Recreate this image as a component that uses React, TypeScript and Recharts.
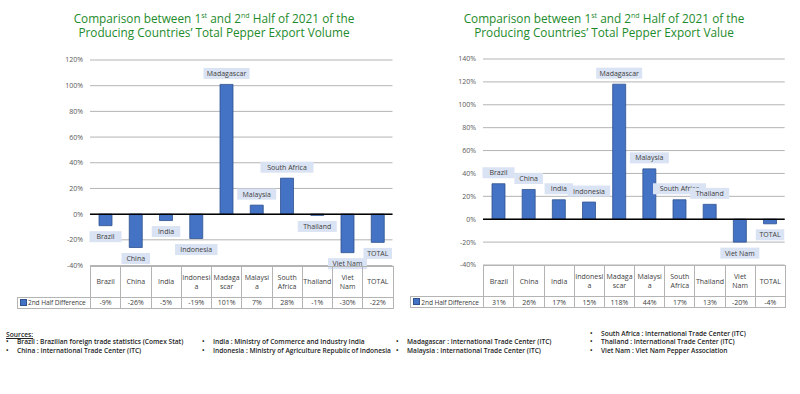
import { BarChart, Bar, XAxis, YAxis, CartesianGrid, ReferenceLine, LabelList } from "recharts";

const countries = ["Brazil", "China", "India", "Indonesia", "Madagascar", "Malaysia", "South Africa", "Thailand", "Viet Nam", "TOTAL"];
const tableHeads = ["Brazil", "China", "India", "Indonesi\na", "Madaga\nscar", "Malaysi\na", "South\nAfrica", "Thailand", "Viet\nNam", "TOTAL"];
const volumeDiff = [-9, -26, -5, -19, 101, 7, 28, -1, -30, -22];
const valueDiff = [31, 26, 17, 15, 118, 44, 17, 13, -20, -4];
const volumeTicks = [-40, -20, 0, 20, 40, 60, 80, 100, 120];
const valueTicks = [-40, -20, 0, 20, 40, 60, 80, 100, 120, 140];
const seriesName = "2nd Half Difference";

const sourcesCols = [
  ["Brazil : Brazilian foreign trade statistics (Comex Stat)", "China : International Trade Center (ITC)"],
  ["India : Ministry of Commerce and Industry India", "Indonesia : Ministry of Agriculture Republic of Indonesia"],
  ["Madagascar : International Trade Center (ITC)", "Malaysia : International Trade Center (ITC)"],
  ["South Africa : International Trade Center (ITC)", "Thailand : International Trade Center (ITC)", "Viet Nam : Viet Nam Pepper Association"]
];

const FONT = "'Open Sans', 'Noto Sans', sans-serif";
const GREEN = "#1e8b2c";
const BAR = "#4472c4";
const GRID = "#b4b4b4";
const TEXT = "#404040";

function CatLabel(props: any) {
  const { x, y, width, height, index, values } = props;
  const v = values[index];
  const name = countries[index];
  const top = Math.min(y, y + height);
  const bottom = Math.max(y, y + height);
  const cx = x + width / 2;
  const cy = v >= 0 ? top - 11 : bottom + 11;
  const w = name.length * 3.5 + 11;
  return (
    <g>
      <rect x={cx - w / 2} y={cy - 5.5} width={w} height={11} fill="#dae3f3" />
      <text x={cx} y={cy} dy={2.5} textAnchor="middle" fontSize={7} fill={TEXT} fontFamily={FONT}>
        {name}
      </text>
    </g>
  );
}

function Panel({ kind, values, ticks, plotLeft, plotTop, plotWidth, plotHeight, titleCenter }: any) {
  const data = countries.map((name, i) => ({ name, value: values[i] }));
  const colW = plotWidth / countries.length;
  const cell: any = {
    border: `1px solid ${GRID}`,
    padding: 0,
    textAlign: "center",
    fontSize: 7,
    color: TEXT,
    lineHeight: "9px",
    whiteSpace: "pre-line",
    overflow: "hidden"
  };
  return (
    <>
      <div
        style={{
          position: "absolute",
          left: titleCenter - 180,
          top: 10.5,
          width: 360,
          textAlign: "center",
          color: GREEN,
          fontSize: 11.8,
          lineHeight: "14px",
          fontFamily: FONT
        }}
      >
        Comparison between 1<sup style={{ fontSize: "0.6em", lineHeight: 0 }}>st</sup> and 2
        <sup style={{ fontSize: "0.6em", lineHeight: 0 }}>nd</sup> Half of 2021 of the
        <br />
        Producing Countries’ Total Pepper Export {kind}
      </div>
      <div style={{ position: "absolute", left: plotLeft - 50, top: plotTop - 10 }}>
        <BarChart
          width={plotWidth + 55}
          height={plotHeight + 20}
          data={data}
          margin={{ top: 10, right: 5, bottom: 10, left: 0 }}
          barCategoryGap={0}
        >
          <CartesianGrid vertical={false} stroke={GRID} strokeWidth={1} />
          <XAxis dataKey="name" hide />
          <YAxis
            width={50}
            domain={[ticks[0], ticks[ticks.length - 1]]}
            ticks={ticks}
            interval={0}
            tickFormatter={(v: number) => `${v}%`}
            axisLine={false}
            tickLine={false}
            tickSize={0}
            tickMargin={7}
            tick={{ fontSize: 7, fill: "#595959", fontFamily: FONT }}
          />
          <ReferenceLine y={0} stroke="#000" strokeWidth={1.5} />
          <Bar dataKey="value" fill={BAR} stroke="#2f528f" strokeWidth={0.8} barSize={13} isAnimationActive={false}>
            <LabelList dataKey="value" content={(p: any) => <CatLabel {...p} values={values} />} />
          </Bar>
        </BarChart>
      </div>
      <table
        style={{
          position: "absolute",
          left: plotLeft - 73,
          top: plotTop + plotHeight,
          width: 73 + plotWidth,
          borderCollapse: "collapse",
          fontFamily: FONT,
          tableLayout: "fixed"
        }}
      >
        <colgroup>
          <col style={{ width: 73 }} />
          {countries.map((c) => (
            <col key={c} style={{ width: colW }} />
          ))}
        </colgroup>
        <tbody>
          <tr style={{ height: 31 }}>
            <td style={{ ...cell, border: "none", borderRight: `1px solid ${GRID}` }} />
            {tableHeads.map((h) => (
              <td key={h} style={cell}>
                {h}
              </td>
            ))}
          </tr>
          <tr style={{ height: 11 }}>
            <td style={{ ...cell, textAlign: "left", paddingLeft: 1.5, whiteSpace: "nowrap", fontSize: 6.6, letterSpacing: -0.1 }}>
              <span
                style={{
                  display: "inline-block",
                  width: 5,
                  height: 5,
                  background: BAR,
                  border: "0.5px solid #2f528f",
                  marginRight: 1.5,
                  verticalAlign: "-0.5px"
                }}
              />
              {seriesName}
            </td>
            {values.map((v: number, i: number) => (
              <td key={i} style={cell}>
                {v}%
              </td>
            ))}
          </tr>
        </tbody>
      </table>
    </>
  );
}

export default function App() {
  const colX = [6, 202, 396, 590];
  return (
    <div style={{ position: "absolute", left: 0, top: 0, width: 800, height: 394, background: "#fff", fontFamily: FONT, overflow: "hidden" }}>
      <Panel
        kind="Volume"
        values={volumeDiff}
        ticks={volumeTicks}
        plotLeft={90}
        plotTop={60}
        plotWidth={302.5}
        plotHeight={205.5}
        titleCenter={214}
      />
      <Panel
        kind="Value"
        values={valueDiff}
        ticks={valueTicks}
        plotLeft={483.3}
        plotTop={59}
        plotWidth={301.7}
        plotHeight={206}
        titleCenter={604}
      />
      <div style={{ position: "absolute", left: 6, top: 329.5, fontSize: 6.7, fontWeight: 600, color: "#222", textDecoration: "underline" }}>
        Sources:
      </div>
      {sourcesCols.map((col, ci) => (
        <div
          key={ci}
          style={{
            position: "absolute",
            left: colX[ci],
            top: ci === 3 ? 329.5 : 338,
            fontSize: 6.6,
            fontWeight: 600,
            color: "#222",
            lineHeight: "8.6px"
          }}
        >
          {col.map((s) => (
            <div key={s} style={{ display: "flex", whiteSpace: "nowrap" }}>
              <span style={{ width: 11 }}>•</span>
              <span>{s}</span>
            </div>
          ))}
        </div>
      ))}
    </div>
  );
}
